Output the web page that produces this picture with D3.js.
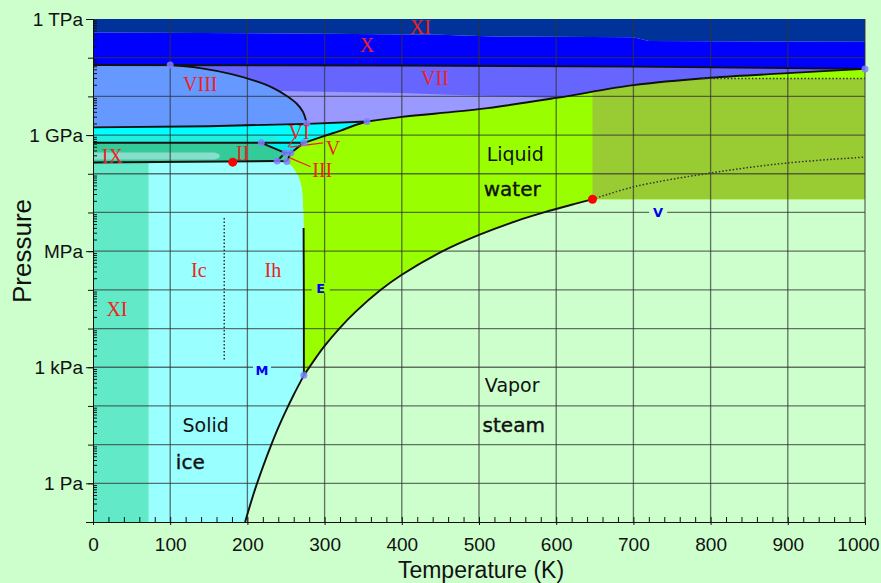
<!DOCTYPE html>
<html>
<head>
<meta charset="utf-8">
<title>Phase diagram of water</title>
<script src="https://cdn.jsdelivr.net/npm/d3@7"></script>
<style>
  body { margin: 0; background: #ccffcc; }
  svg { display: block; }
  .axis text { font-family: "Liberation Sans", Arial, sans-serif; fill: #111; }
  .axis path, .axis line { stroke: #111; }
</style>
</head>
<body>
<div id="chart"></div>
<script>
// temperature in K, pressure as log10(Pa)
var vaporization = [[273.16,2.79],[290,3.28],[300,3.55],[319,4.0],[340,4.43],[372.8,5.0],[400,5.39],[453,6.0],[500,6.42],[550,6.79],[584,7.0],[620,7.2],[647,7.34]];
var sublimation = [[273.16,2.79],[260,2.29],[250,1.88],[240,1.44],[230,0.95],[220,0.42],[210,-0.15],[197,-1]];
var ihMelt = [[273.16,2.79],[273.1,5.0],[272.8,6.6],[272.3,7.05],[270.5,7.6],[267.5,7.85],[264,8.0],[258,8.18],[251.2,8.32]];
var iiiVLiquid = [[251.2,8.32],[256.2,8.54],[273.3,8.8]];
var viLiquid = [[273.3,8.8],[300,8.98],[320,9.11],[340,9.26],[355,9.35]];
var viiLiquid = [[355,9.35],[400,9.47],[500,9.67],[600,9.96],[700,10.29],[800,10.48],[900,10.6],[1000,10.71]];
var xVii = [[0,10.81],[400,10.8],[700,10.77],[900,10.73],[1000,10.71]];
var xiX = [[0,11.65],[300,11.62],[450,11.59],[520,11.55],[700,11.53],[720,11.43],[1000,11.41]];
var viTop = [[0,9.2],[150,9.23],[277,9.29],[355,9.35]];
var viiiCurve = [[100,10.81],[139,10.73],[178,10.58],[210,10.4],[233,10.22],[251,10.01],[264,9.81],[272,9.6],[277,9.29]];
var lavenderTop = [[240,10.14],[400,10.09],[460,10.04],[600,9.96]];
var iiTop = [[0,8.8],[273.3,8.8]];
var ihTop = [[0,8.29],[238.45,8.33]];
var iiV = [[218,8.8],[248.85,8.54]];
var iiIii = [[248.85,8.54],[238.45,8.33]];
var iiiV = [[248.85,8.54],[256.2,8.54]];
var ihIii = [[238.45,8.33],[251.2,8.32]];
var ixStrip = [[0,8.55],[158,8.55],[164,8.5],[164,8.42],[158,8.37],[0,8.37]];
var xiStripT = 72;
var superCrit = [[647,7.34],[647,10.4],[790,10.46],[1000,10.46],[1000,7.34]];
var superTop = [[790,10.46],[1000,10.46]];
var widom = [[647,7.34],[700,7.66],[800,8.02],[900,8.28],[1000,8.43]];
var icIh = [[170,6.86],[170,3.19]];
var triplePoints = [[100,10.81],[277,9.3],[355,9.35],[218,8.8],[273.3,8.8],[248.85,8.54],[256.2,8.54],[238.45,8.33],[251.2,8.32],[273.16,2.79],[1000,10.71]];
var redPoints = [[181,8.3],[647,7.34]];
var pointers = [[[252.6,8.69],[261.7,8.95]],[[255,8.69],[298,8.8]],[[255,8.41],[282,8.18]]];

var phaseNames = ["XI","X","VII","VIII","VI","V","III","II","IX","Ic","Ih","XI"];
var phaseAt = [[424,11.79],[355,11.33],[443,10.48],[139,10.32],[267,9.08],[311,8.67],[297,8.1],[194,8.54],[25,8.46],[137,5.51],[233,5.51],[31,4.51]];
var stateNames = ["Liquid","water","Vapor","steam","Solid","ice"];
var stateAt = [[547,8.49],[543,7.61],[543,2.54],[545,1.51],[146,1.51],[126,0.55]];
var pointNames = ["E","M","V"];
var pointAt = [[295,5.05],[219,2.93],[732,7.01]];
var pointBg = ["#99ff00","#99ffff","#ccffcc"];

var xTicks = d3.range(0, 1001, 100);
var yLabels = [[1e12,"1 TPa"],[1e9,"1 GPa"],[1e6,"MPa"],[1e3,"1 kPa"],[1,"1 Pa"]];

var W = 881, H = 583;
var x = d3.scaleLinear().domain([0, 1000]).range([93, 865]);
var yP = d3.scaleLog().domain([1e-1, 1e12]).range([522, 19]);
function y(lp) { return yP(Math.pow(10, lp)); }

var smooth = d3.curveCatmullRom.alpha(0.5);
function seg(pts, curve) {
  return d3.line().x(function(d) { return x(d[0]); }).y(function(d) { return y(d[1]); })
    .curve(curve || d3.curveLinear)(pts);
}
function region(parts) {
  return parts.map(function(p, i) {
    var s = seg(p[0], p[1]);
    return i ? "L" + s.slice(1) : s;
  }).join("") + "Z";
}
function rev(a) { return a.slice().reverse(); }

var svg = d3.select("#chart").append("svg").attr("width", W).attr("height", H);

var fills = [
  ["#99ff00", region([[vaporization, smooth], [[[1000,7.34],[1000,10.71]]], [rev(viiLiquid), smooth], [rev(viLiquid), smooth], [rev(iiiVLiquid)], [rev(ihMelt), smooth]])],
  ["#99cc33", region([[superCrit]])],
  ["#003399", region([[[[0,12],[1000,12]]], [rev(xiX)]])],
  ["#0000ff", region([[xiX], [rev(xVii)]])],
  ["#6666ff", region([[xVii], [rev(viiLiquid), smooth], [rev(viTop)]])],
  ["#9999ff", region([[lavenderTop], [rev(viiLiquid.slice(0, 4)), smooth], [rev(viTop.slice(1))]])],
  ["#6699ff", region([[[[0,10.81]]], [viiiCurve, smooth], [rev(viTop.slice(0, 3))]])],
  ["#00ffff", region([[viTop], [rev(viLiquid), smooth], [[[0,8.8]]]])],
  ["#22eedd", region([[[[0,8.97],[235,8.97],[245,8.8],[0,8.8]]]])],
  ["#00f0f0", region([[[[218,8.8],[273.3,8.8],[256.2,8.54],[248.85,8.54]]]])],
  ["#33cc99", region([[[[0,8.8],[218,8.8],[248.85,8.54],[238.45,8.33],[0,8.29]]]])],
  ["#44cc99", region([[[[238.45,8.33],[248.85,8.54],[256.2,8.54],[251.2,8.32]]]])],
  ["#88ddcc", region([[ixStrip]])],
  ["#99ffff", region([[[[xiStripT,8.3]].concat(ihTop.slice(1))], [ihIii], [rev(ihMelt), smooth], [sublimation, smooth], [[[xiStripT,-1]]]])],
  ["#62eac8", region([[[[0,-1],[xiStripT,-1],[xiStripT,8.3],[0,8.29]]]])]
];
svg.append("g").selectAll("path").data(fills).join("path")
  .attr("d", function(d) { return d[1]; })
  .attr("fill", function(d) { return d[0]; });

// grid
var grid = svg.append("g").attr("stroke", "#333").attr("stroke-opacity", 0.7).attr("stroke-width", 1.3);
grid.selectAll("line.v").data(xTicks.slice(1)).join("line")
  .attr("x1", function(d) { return x(d); }).attr("x2", function(d) { return x(d); })
  .attr("y1", yP(1e12)).attr("y2", yP(1e-1));
grid.selectAll("line.h").data(d3.range(0, 12)).join("line")
  .attr("x1", x(0)).attr("x2", x(1000))
  .attr("y1", function(d) { return y(d); }).attr("y2", function(d) { return y(d); });

// boundaries
var bounds = [
  [vaporization, smooth], [sublimation, smooth], [ihMelt.slice(0, 3)],
  [ihTop], [iiTop], [iiV], [iiIii], [iiiV], [ihIii], [iiiVLiquid],
  [viTop], [viLiquid, smooth], [viiLiquid, smooth], [xVii], [viiiCurve, smooth]
];
svg.append("g").selectAll("path").data(bounds).join("path")
  .attr("d", function(d) { return seg(d[0], d[1]); })
  .attr("fill", "none").attr("stroke", "#111").attr("stroke-width", 1.9);

var dotted = [[widom, smooth], [superTop], [icIh]];
svg.append("g").selectAll("path").data(dotted).join("path")
  .attr("d", function(d) { return seg(d[0], d[1]); })
  .attr("fill", "none").attr("stroke", "#333").attr("stroke-width", 1.5)
  .attr("stroke-dasharray", "1.5,2");

svg.append("g").selectAll("path").data(pointers).join("path")
  .attr("d", function(d) { return seg(d); })
  .attr("stroke", "#ee2222").attr("stroke-width", 1.2);

svg.append("g").selectAll("circle").data(triplePoints).join("circle")
  .attr("cx", function(d) { return x(d[0]); }).attr("cy", function(d) { return y(d[1]); })
  .attr("r", 3.5).attr("fill", "#8080ff").attr("fill-opacity", 0.85);
svg.append("g").selectAll("circle").data(redPoints).join("circle")
  .attr("cx", function(d) { return x(d[0]); }).attr("cy", function(d) { return y(d[1]); })
  .attr("r", 4.5).attr("fill", "#ff0000");

// axes
var gx = svg.append("g").attr("class", "axis").attr("transform", "translate(0," + yP(1e-1) + ")");
gx.call(d3.axisBottom(x).tickValues(xTicks).tickFormat(d3.format("d")).tickSize(3).tickPadding(13));
gx.selectAll("text").attr("font-size", 19);
// keep the last label inside the window
gx.selectAll(".tick").filter(function(d) { return d === 1000; }).select("text").attr("dx", -7);
svg.append("g").attr("class", "axis").attr("transform", "translate(0," + yP(1e-1) + ")")
  .call(d3.axisTop(x).tickValues(d3.range(0, 1001, 20)).tickSize(5).tickFormat(""))
  .select(".domain").remove();

var gy = svg.append("g").attr("class", "axis").attr("transform", "translate(" + x(0) + ",0)");
gy.call(d3.axisLeft(yP).tickValues(yLabels.map(function(d) { return d[0]; }))
  .tickFormat(function(v, i) { return yLabels[i][1]; }).tickSize(7).tickPadding(3));
gy.selectAll("text").attr("font-size", 19);
svg.append("g").attr("class", "axis").attr("transform", "translate(" + x(0) + ",0)")
  .call(d3.axisLeft(yP).tickValues(d3.range(-1, 13).map(function(d) { return Math.pow(10, d); })).tickSize(5).tickFormat(""))
  .select(".domain").remove();
var minors = [];
d3.range(-1, 12).forEach(function(e) { d3.range(2, 10).forEach(function(m) { minors.push(m * Math.pow(10, e)); }); });
svg.append("g").attr("class", "axis").attr("transform", "translate(" + x(0) + ",0)")
  .call(d3.axisRight(yP).tickValues(minors).tickSize(4).tickFormat(""))
  .select(".domain").remove();

svg.append("text").attr("x", 481).attr("y", 578).attr("text-anchor", "middle")
  .attr("font-family", "Liberation Sans, Arial, sans-serif").attr("font-size", 23).attr("fill", "#111")
  .text("Temperature (K)");
svg.append("text").attr("transform", "translate(31,251) rotate(-90)").attr("text-anchor", "middle")
  .attr("font-family", "Liberation Sans, Arial, sans-serif").attr("font-size", 26).attr("fill", "#111")
  .text("Pressure");

// labels
svg.append("g").selectAll("text").data(phaseNames).join("text")
  .attr("x", function(d, i) { return x(phaseAt[i][0]); }).attr("y", function(d, i) { return y(phaseAt[i][1]); })
  .attr("dy", "0.35em").attr("text-anchor", "middle")
  .attr("font-family", "Liberation Serif, Times New Roman, serif").attr("font-size", 20).attr("fill", "#ee2222")
  .text(function(d) { return d; });
svg.append("g").selectAll("text").data(stateNames).join("text")
  .attr("x", function(d, i) { return x(stateAt[i][0]); }).attr("y", function(d, i) { return y(stateAt[i][1]); })
  .attr("dy", "0.35em").attr("text-anchor", "middle")
  .attr("font-family", "DejaVu Sans, sans-serif").attr("font-size", function(d, i) { return i % 2 ? 20 : 19; })
  .attr("fill", "#111").attr("stroke", "#111").attr("stroke-width", function(d, i) { return i % 2 ? 0.4 : 0; })
  .text(function(d) { return d; });
var pl = svg.append("g").selectAll("g").data(pointNames).join("g")
  .attr("transform", function(d, i) { return "translate(" + x(pointAt[i][0]) + "," + y(pointAt[i][1]) + ")"; });
pl.append("rect").attr("x", -9).attr("y", -5).attr("width", 18).attr("height", 10)
  .attr("fill", function(d, i) { return pointBg[i]; });
pl.append("text").attr("dy", "0.36em").attr("text-anchor", "middle")
  .attr("font-family", "DejaVu Sans, sans-serif").attr("font-weight", "bold").attr("font-size", 13)
  .attr("fill", "#0000ee").text(function(d) { return d; });
</script>
</body>
</html>
